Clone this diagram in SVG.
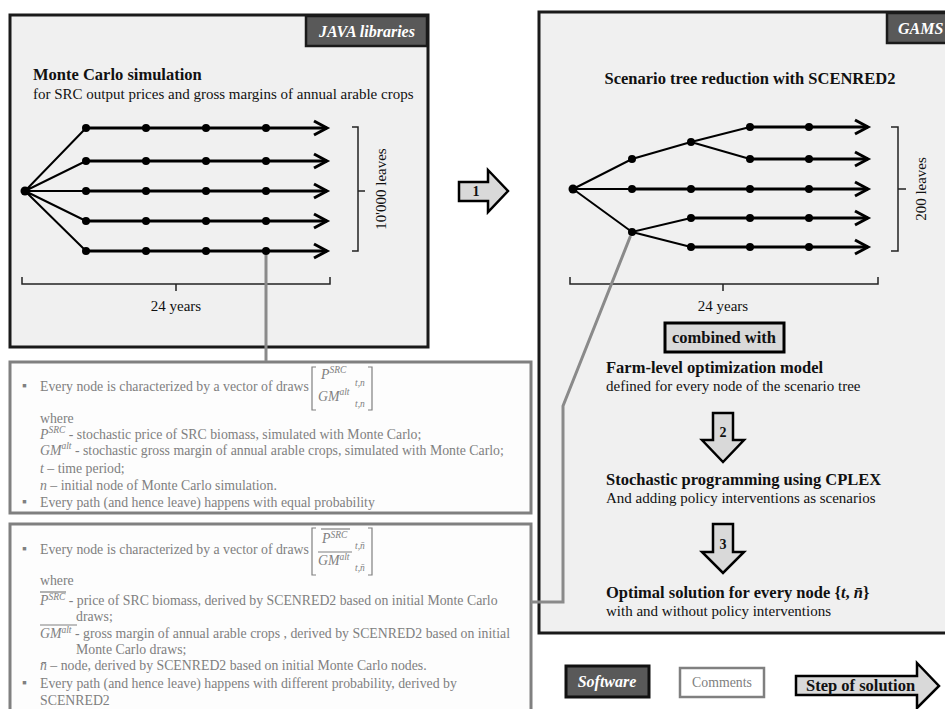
<svg xmlns="http://www.w3.org/2000/svg" width="945" height="709" viewBox="0 0 945 709">
<style>
.box{fill:#f0f0f0;stroke:#1a1a1a;stroke-width:3}
.cbox{fill:#fdfdfd;stroke:#808080;stroke-width:3}
.lbl{fill:#595959;stroke:#1a1a1a;stroke-width:2.5}
.lt{font-family:"Liberation Serif",serif;font-weight:bold;font-style:italic;fill:#fff;font-size:16px}
.h{font-family:"Liberation Serif",serif;font-weight:bold;font-size:16.5px;fill:#111}
.s{font-family:"Liberation Serif",serif;font-size:15px;fill:#111}
.c{font-family:"Liberation Serif",serif;font-size:13.8px;fill:#808080}
.m{font-style:italic}
.sm{font-size:9.5px}
.th{stroke:#000;stroke-width:3;fill:none}
.tn{stroke:#000;stroke-width:2;fill:none}
.br{stroke:#222;stroke-width:1.5;fill:none}
.cbr{stroke:#808080;stroke-width:1.2;fill:none}
.con{stroke:#8a8a8a;stroke-width:3;fill:none}
.step{fill:#d9d9d9;stroke:#000;stroke-width:2.5}
.num{font-family:"Liberation Serif",serif;font-weight:bold;font-size:14px;fill:#111;text-anchor:middle}
</style>
<defs>
<marker id="ah" markerUnits="userSpaceOnUse" markerWidth="20" markerHeight="20" viewBox="0 0 20 20" refX="16" refY="10" orient="auto"><path d="M3,3 L16,10 L3,17" fill="none" stroke="#000" stroke-width="3"/></marker>
</defs>
<rect width="945" height="709" fill="#fff"/>

<g id="monte-carlo">
<rect class="box" x="10" y="15" width="418" height="332"/>
<rect class="lbl" x="306" y="16" width="121" height="30"/>
<text class="lt" x="367" y="37" text-anchor="middle">JAVA libraries</text>
<text class="h" x="33" y="80">Monte Carlo simulation</text>
<text class="s" x="33" y="99">for SRC output prices and gross margins of annual arable crops</text>
<g class="tn">
<path d="M25,191 L86,128 M25,191 L86,161 M25,191 L86,191 M25,191 L86,221 M25,191 L86,251"/>
</g>
<g class="th" marker-end="url(#ah)">
<path d="M86,128 L327,128"/><path d="M86,161 L327,161"/><path d="M86,191 L327,191"/><path d="M86,221 L327,221"/><path d="M86,251 L327,251"/>
</g>
<g fill="#000">
<circle cx="25" cy="191" r="4.5"/>
<circle cx="86" cy="128" r="4"/><circle cx="146" cy="128" r="4"/><circle cx="206" cy="128" r="4"/><circle cx="266" cy="128" r="4"/>
<circle cx="86" cy="161" r="4"/><circle cx="146" cy="161" r="4"/><circle cx="206" cy="161" r="4"/><circle cx="266" cy="161" r="4"/>
<circle cx="86" cy="191" r="4"/><circle cx="146" cy="191" r="4"/><circle cx="206" cy="191" r="4"/><circle cx="266" cy="191" r="4"/>
<circle cx="86" cy="221" r="4"/><circle cx="146" cy="221" r="4"/><circle cx="206" cy="221" r="4"/><circle cx="266" cy="221" r="4"/>
<circle cx="86" cy="251" r="4"/><circle cx="146" cy="251" r="4"/><circle cx="206" cy="251" r="4"/><circle cx="266" cy="251" r="4"/>
</g>
<path class="br" d="M352,127 L358,127 L358,251 L352,251 M358,191 L365,191"/>
<text class="s" font-size="14.5" transform="translate(386,189) rotate(-90)" text-anchor="middle">10'000 leaves</text>
<path class="br" d="M22,277 L22,284 L330,284 L330,277 M176,284 L176,291"/>
<text class="s" font-size="14.5" x="176" y="311" text-anchor="middle">24 years</text>
</g>

<g id="scenred">
<rect class="box" x="539" y="12" width="420" height="621"/>
<rect class="lbl" x="887" y="13" width="70" height="30"/>
<text class="lt" x="898" y="34">GAMS</text>
<text class="h" x="750" y="84" text-anchor="middle">Scenario tree reduction with SCENRED2</text>
<path class="tn" d="M573,189 L632,159 L691,142 L750,127 M691,142 L750,159 M573,189 L632,189 M573,189 L632,232 L691,218 M632,232 L691,247"/>
<g class="th" marker-end="url(#ah)">
<path d="M750,127 L868,127"/><path d="M750,159 L868,159"/><path d="M632,189 L868,189"/><path d="M691,218 L868,218"/><path d="M691,247 L868,247"/>
</g>
<g fill="#000">
<circle cx="573" cy="189" r="4.5"/>
<circle cx="632" cy="159" r="4"/><circle cx="691" cy="142" r="4"/>
<circle cx="750" cy="127" r="4"/><circle cx="809" cy="127" r="4"/>
<circle cx="750" cy="159" r="4"/><circle cx="809" cy="159" r="4"/>
<circle cx="632" cy="189" r="4"/><circle cx="691" cy="189" r="4"/><circle cx="750" cy="189" r="4"/><circle cx="809" cy="189" r="4"/>
<circle cx="632" cy="232" r="4"/>
<circle cx="691" cy="218" r="4"/><circle cx="750" cy="218" r="4"/><circle cx="809" cy="218" r="4"/>
<circle cx="691" cy="247" r="4"/><circle cx="750" cy="247" r="4"/><circle cx="809" cy="247" r="4"/>
</g>
<path class="br" d="M891,127 L898,127 L898,251 L891,251 M898,189 L906,189"/>
<text class="s" font-size="14.5" transform="translate(926,189) rotate(-90)" text-anchor="middle">200 leaves</text>
<path class="br" d="M570,277 L570,284 L878,284 L878,277 M723,284 L723,291"/>
<text class="s" font-size="14.5" x="723" y="311" text-anchor="middle">24 years</text>
<rect x="665" y="323" width="119" height="29" fill="#d9d9d9" stroke="#000" stroke-width="3"/>
<text class="h" font-size="15" x="724" y="343" text-anchor="middle">combined with</text>
<text class="h" x="606" y="373">Farm-level optimization model</text>
<text class="s" x="606" y="391">defined for every node of the scenario tree</text>
<text class="h" x="606" y="485">Stochastic programming using CPLEX</text>
<text class="s" x="606" y="503">And adding policy interventions as scenarios</text>
<text class="h" x="606" y="598">Optimal solution for every node {<tspan font-style="italic">t</tspan>, <tspan font-style="italic">n̄</tspan>}</text>
<text class="s" x="606" y="616">with and without policy interventions</text>
</g>

<g id="step2">
<path class="step" d="M713,413 L733,413 L733,440 L744,440 L723,462 L702,440 L713,440 Z"/>
<text class="num" x="723" y="437">2</text>
</g>
<g id="step3">
<path class="step" d="M713,524 L733,524 L733,552 L744,552 L723,573 L702,552 L713,552 Z"/>
<text class="num" x="723" y="549">3</text>
</g>
<g id="step1">
<path class="step" d="M459,182 L488,182 L488,170 L508,191 L488,212 L488,201 L459,201 Z"/>
<text class="num" x="476" y="196">1</text>
</g>

<g id="comment-mc">
<rect class="cbox" x="10" y="362" width="521" height="151"/>
<text class="c" x="22" y="390" font-size="10">▪</text>
<text class="c" x="40" y="391">Every node is characterized by a vector of draws</text>
<path class="cbr" d="M316,367 L312,367 L312,410 L316,410 M368,367 L372,367 L372,410 L368,410"/>
<text class="c m" x="321" y="379">P<tspan class="sm" dy="-6">SRC</tspan></text>
<text class="c m sm" x="355" y="386">t,n</text>
<text class="c m" x="318" y="401">GM<tspan class="sm" dy="-6">alt</tspan></text>
<text class="c m sm" x="355" y="407">t,n</text>
<text class="c" x="40" y="423">where</text>
<text class="c" x="40" y="439"><tspan class="m">P</tspan><tspan class="m sm" dy="-6">SRC</tspan><tspan dy="6"> - stochastic price of SRC biomass, simulated with Monte Carlo;</tspan></text>
<text class="c" x="40" y="455"><tspan class="m">GM</tspan><tspan class="m sm" dy="-6">alt</tspan><tspan dy="6"> - stochastic gross margin of annual arable crops, simulated with Monte Carlo;</tspan></text>
<text class="c" x="40" y="473"><tspan class="m">t</tspan> – time period;</text>
<text class="c" x="40" y="490"><tspan class="m">n</tspan> – initial node of Monte Carlo simulation.</text>
<text class="c" x="22" y="506" font-size="10">▪</text>
<text class="c" x="40" y="507">Every path (and hence leave) happens with equal probability</text>
</g>

<g id="comment-scenred">
<rect class="cbox" x="10" y="524" width="521" height="200"/>
<text class="c" x="22" y="553" font-size="10">▪</text>
<text class="c" x="40" y="554">Every node is characterized by a vector of draws</text>
<path class="cbr" d="M316,528 L312,528 L312,575 L316,575 M368,528 L372,528 L372,575 L368,575"/>
<line class="cbr" x1="321" y1="529" x2="350" y2="529"/>
<text class="c m" x="322" y="543">P<tspan class="sm" dy="-5">SRC</tspan></text>
<text class="c m sm" x="355" y="549">t,n̄</text>
<line class="cbr" x1="318" y1="552" x2="352" y2="552"/>
<text class="c m" x="318" y="565">GM<tspan class="sm" dy="-5">alt</tspan></text>
<text class="c m sm" x="355" y="571">t,n̄</text>
<text class="c" x="40" y="585">where</text>
<line class="cbr" x1="40" y1="592" x2="66" y2="592"/>
<text class="c" x="40" y="605"><tspan class="m">P</tspan><tspan class="m sm" dy="-5">SRC</tspan><tspan dy="5"> - price of SRC biomass, derived by SCENRED2 based on initial Monte Carlo</tspan></text>
<text class="c" x="76" y="621">draws;</text>
<line class="cbr" x1="40" y1="625" x2="77" y2="625"/>
<text class="c" x="40" y="638"><tspan class="m">GM</tspan><tspan class="m sm" dy="-5">alt</tspan><tspan dy="5"> - gross margin of annual arable crops , derived by SCENRED2 based on initial</tspan></text>
<text class="c" x="76" y="654">Monte Carlo draws;</text>
<text class="c" x="40" y="670"><tspan class="m">n̄</tspan> – node, derived by SCENRED2 based on initial Monte Carlo nodes.</text>
<text class="c" x="22" y="687" font-size="10">▪</text>
<text class="c" x="40" y="688">Every path (and hence leave) happens with different probability, derived by</text>
<text class="c" x="40" y="705">SCENRED2</text>
</g>

<g id="connectors">
<path class="con" d="M266,255 L266,361"/>
<path class="con" d="M531,602 L563,602 L563,406 L630.5,236"/>
</g>

<g id="legend">
<g id="legend-software">
<rect x="566" y="666" width="83" height="31" fill="#595959" stroke="#111" stroke-width="3"/>
<text class="lt" x="607" y="687" text-anchor="middle">Software</text>
</g>
<g id="legend-comments">
<rect x="680" y="668" width="84" height="29" fill="#fff" stroke="#808080" stroke-width="2.5"/>
<text class="c" font-size="13" x="722" y="687" text-anchor="middle">Comments</text>
</g>
<g id="legend-step">
<path class="step" d="M796,676 L917,676 L917,663 L939,686 L917,708 L917,695 L796,695 Z"/>
<text class="h" font-size="16" x="806" y="691">Step of solution</text>
</g>
</g>
</svg>
